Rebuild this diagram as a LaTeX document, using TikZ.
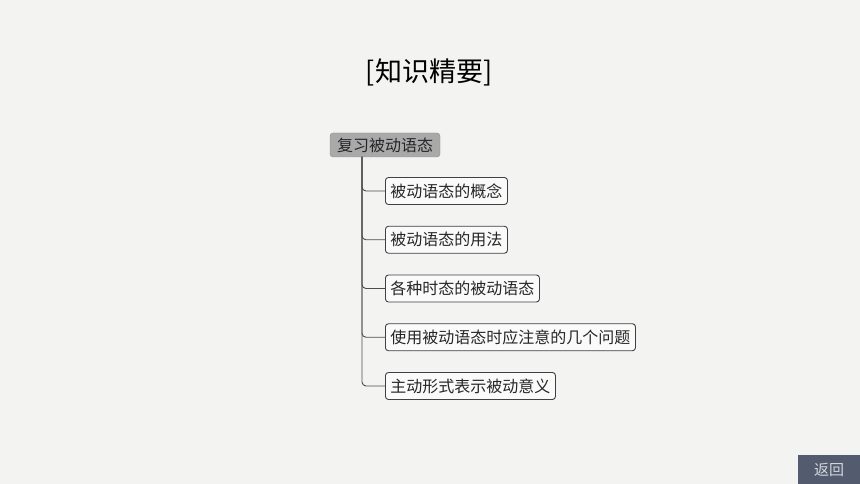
\documentclass[tikz,border=0pt]{standalone}
\usepackage{fontspec}
\setmainfont{Noto Sans CJK SC}
\definecolor{bgcol}{HTML}{F3F3F2}
\definecolor{rootfill}{HTML}{A9A9A9}
\definecolor{btncol}{HTML}{525C6E}
\begin{document}
\begin{tikzpicture}[x=1pt, y=-1pt, line join=round, line cap=round,
	topic/.style={draw=black!75, fill=white!60!bgcol, rounded corners=3pt, line width=0.9pt,
		minimum height=27pt, inner xsep=5pt, anchor=west, font=\fontsize{16}{16}\selectfont, text=black!85},
	roottopic/.style={draw=rootfill!85!black, fill=rootfill, rounded corners=3pt,
		minimum height=24pt, minimum width=110pt, inner xsep=5pt, font=\fontsize{16}{16}\selectfont, text=black!85},
	branch/.style={draw=black!70, line width=0.9pt, rounded corners=4pt}]
	\fill[bgcol] (0,0) rectangle (860,484);
	\useasboundingbox (0,0) rectangle (860,484);
	\def\trunkx{362}
	% title
	\node (title) at (429,72) {\fontsize{27}{27}\selectfont [知识精要]};
	% root and topics
	\node[roottopic] (root) at (385,145) {复习被动语态};
	\coordinate (top) at (\trunkx,157);
	\foreach \i/\txt in {1/被动语态的概念, 2/被动语态的用法, 3/各种时态的被动语态,
		4/使用被动语态时应注意的几个问题, 5/主动形式表示被动意义}{
		\node[topic] (t\i) at (385,{191+48.75*(\i-1)}) {\txt};
		\draw[branch] (top) |- (t\i.west);
	}
	% back button
	\fill[btncol] (798,455) rectangle (860,484);
	\node[text=white!75!btncol, font=\fontsize{15}{15}\selectfont] (back) at (829,469.5) {返回};
\end{tikzpicture}
\end{document}
